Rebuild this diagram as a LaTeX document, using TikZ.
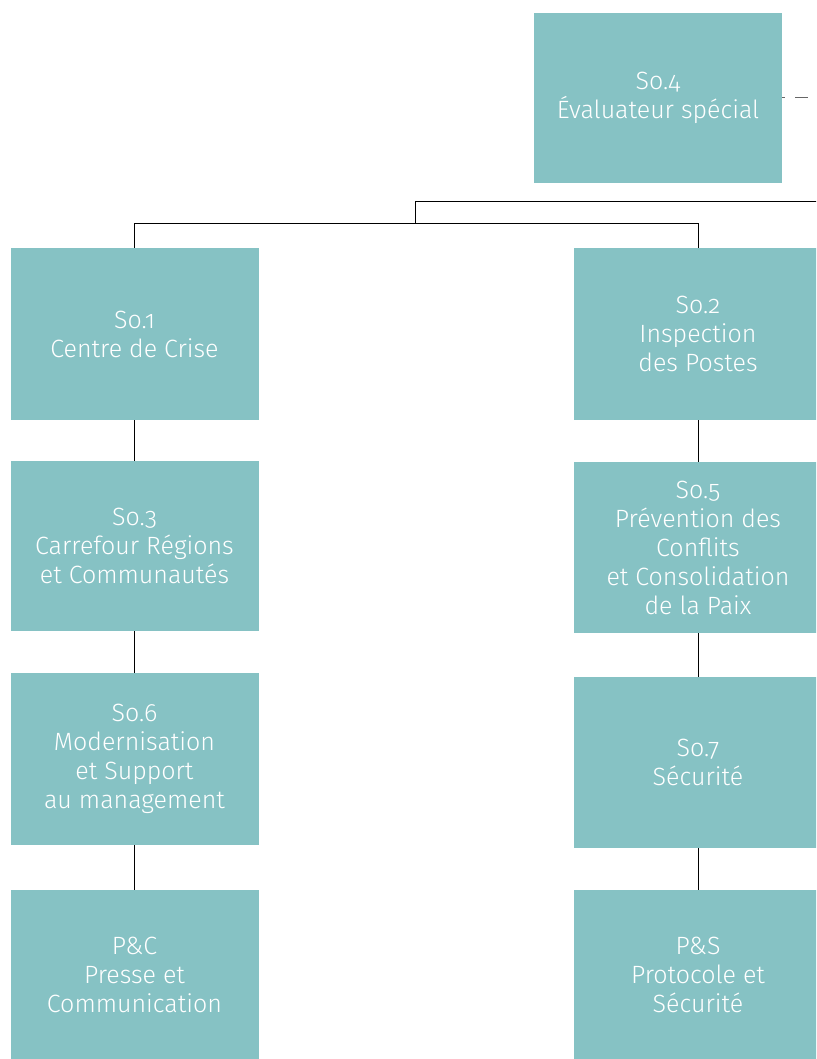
\documentclass[tikz,border=0pt]{standalone}
\usepackage{fontspec}
\setmainfont{Fira Sans}[UprightFont=* Light, Numbers=OldStyle]
\definecolor{boxteal}{HTML}{86C2C4}
\definecolor{dashgrey}{HTML}{666666}
\tikzset{
  unit/.style={fill=boxteal, text=white, align=center, inner sep=0pt,
    minimum width=248pt, minimum height=171pt,
    font=\fontsize{25}{29}\selectfont},
  link/.style={black, line width=1pt}
}
\begin{document}
\begin{tikzpicture}[x=1pt, y=-1pt]
    \clip (0,0) rectangle (816,1059);
    \fill[white] (0,0) rectangle (816,1059);
    % top
    \node[unit, minimum height=170pt] (so4) at (658,98) {So.4\\Évaluateur spécial};
    \draw[dashgrey, line width=1pt, dash pattern=on 13pt off 10pt, dash phase=10pt] (so4.east) -- ++(26,0);
    % left column
    \node[unit, minimum height=172pt] (so1) at (134.5,334) {So.1\\Centre de Crise};
    \node[unit, minimum height=170pt] (so3) at (134.5,546) {So.3\\Carrefour Régions\\et Communautés};
    \node[unit, minimum height=172pt] (so6) at (134.5,759) {So.6\\Modernisation\\et Support\\au management};
    \node[unit, minimum height=170pt] (pc) at (134.5,975) {P\&C\\Presse et\\Communication};
    % right column
    \node[unit, minimum height=172pt] (so2) at (698,334) {So.2\\Inspection\\des Postes};
    \node[unit] (so5) at (698,547.5) {So.5\\Prévention des\\Conflits\\et Consolidation\\de la Paix};
    \node[unit] (so7) at (698,762.5) {So.7\\Sécurité};
    \node[unit, minimum height=170pt] (ps) at (698,975) {P\&S\\Protocole et\\Sécurité};
    % links
    \coordinate (top) at (415,202);
    \coordinate (bus) at (415,224);
    \coordinate (out) at (820,202);
    \draw[link] (out) -- (top) -- (bus);
    \draw[link] (bus) -| (so1.north);
    \draw[link] (bus) -| (so2.north);
    \foreach \a/\b in {so1/so3,so3/so6,so6/pc,so2/so5,so5/so7,so7/ps}
    \draw[link] (\a.south) -- (\b.north);
\end{tikzpicture}
\end{document}
